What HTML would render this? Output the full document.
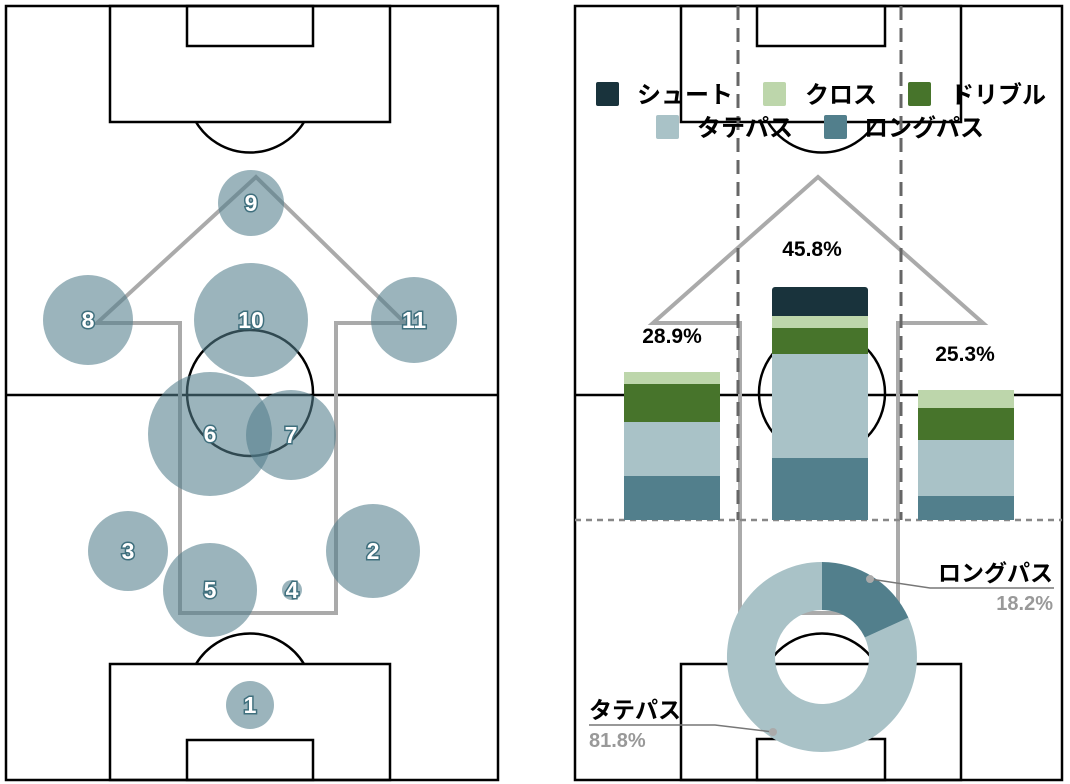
<!DOCTYPE html>
<html><head><meta charset="utf-8"><style>
html,body{margin:0;padding:0;background:#fff;}
svg{display:block;}
text{font-family:"Liberation Sans","Noto Sans CJK JP",sans-serif;font-weight:bold;}
</style></head><body>
<svg width="1070" height="784" viewBox="0 0 1070 784" xmlns="http://www.w3.org/2000/svg">
<!-- LEFT PITCH -->
<g fill="none" stroke="#000" stroke-width="2.5">
<rect x="6" y="6" width="492" height="774"/>
<line x1="6" y1="395" x2="498" y2="395"/>
<circle cx="250" cy="393" r="63"/>
<rect x="110" y="6" width="280" height="116"/>
<rect x="187" y="6" width="126" height="40"/>
<path d="M196 122 A63 63 0 0 0 304 122"/>
<rect x="110" y="664" width="280" height="116"/>
<rect x="187" y="740" width="126" height="40"/>
<path d="M196 664 A63 63 0 0 1 304 664"/>
</g>
<polygon points="256,177 405,323 336,323 336,613 180,613 180,323 97,323" fill="none" stroke="#aaa" stroke-width="4"/>
<g fill="rgb(82,126,140)" fill-opacity="0.58">
<circle cx="251" cy="203" r="33"/>
<circle cx="88" cy="320" r="45"/>
<circle cx="251" cy="320" r="57"/>
<circle cx="414" cy="320" r="43"/>
<circle cx="210" cy="434" r="62"/>
<circle cx="291" cy="435" r="45"/>
<circle cx="128" cy="551" r="40"/>
<circle cx="373" cy="551" r="47"/>
<circle cx="210" cy="590" r="47"/>
<circle cx="292" cy="590" r="10"/>
<circle cx="250" cy="705" r="24"/>
</g>
<g font-size="23" fill="#fff" stroke="#3f6f7d" stroke-width="3" paint-order="stroke" text-anchor="middle">
<text x="251" y="211">9</text>
<text x="88" y="328">8</text>
<text x="251" y="328">10</text>
<text x="414" y="328">11</text>
<text x="210" y="442">6</text>
<text x="291" y="443">7</text>
<text x="128" y="559">3</text>
<text x="373" y="559">2</text>
<text x="210" y="598">5</text>
<text x="292" y="598">4</text>
<text x="250" y="713">1</text>
</g>

<!-- RIGHT PITCH -->
<g fill="none" stroke="#000" stroke-width="2.5">
<rect x="575" y="6" width="487" height="774"/>
<line x1="575" y1="395" x2="1062" y2="395"/>
<circle cx="822" cy="393" r="63"/>
<rect x="681" y="6" width="280" height="116"/>
<rect x="757" y="6" width="128" height="40"/>
<path d="M768 122 A63 63 0 0 0 876 122"/>
<rect x="681" y="664" width="280" height="116"/>
<rect x="757" y="739" width="128" height="41"/>
<path d="M768 664 A63 63 0 0 1 876 664"/>
</g>
<polygon points="818,177 983,323 898,323 898,613 740,613 740,323 653,323" fill="none" stroke="#aaa" stroke-width="4"/>
<g stroke="#666" stroke-width="3" stroke-dasharray="14,8">
<line x1="738" y1="6" x2="738" y2="520"/>
<line x1="901" y1="6" x2="901" y2="520"/>
</g>
<line x1="575" y1="520" x2="1062" y2="520" stroke="#888" stroke-width="2.5" stroke-dasharray="6,5"/>

<!-- bars -->
<rect x="624" y="372" width="96" height="12" fill="#bdd6ab"/>
<rect x="624" y="384" width="96" height="38" fill="#47742b"/>
<rect x="624" y="422" width="96" height="54" fill="#a9c2c7"/>
<rect x="624" y="476" width="96" height="44" fill="#527f8c"/>

<path d="M772 316 V290 a3 3 0 0 1 3 -3 H865 a3 3 0 0 1 3 3 V316 Z" fill="#19333c"/>
<rect x="772" y="316" width="96" height="12" fill="#bdd6ab"/>
<rect x="772" y="328" width="96" height="26" fill="#47742b"/>
<rect x="772" y="354" width="96" height="104" fill="#a9c2c7"/>
<rect x="772" y="458" width="96" height="62" fill="#527f8c"/>

<rect x="918" y="390" width="96" height="18" fill="#bdd6ab"/>
<rect x="918" y="408" width="96" height="32" fill="#47742b"/>
<rect x="918" y="440" width="96" height="56" fill="#a9c2c7"/>
<rect x="918" y="496" width="96" height="24" fill="#527f8c"/>

<g font-size="21" fill="#000" text-anchor="middle">
<text x="672" y="343">28.9%</text>
<text x="812" y="256">45.8%</text>
<text x="965" y="361">25.3%</text>
</g>

<!-- legend -->
<rect x="596" y="82" width="23" height="24" rx="2" fill="#19333c"/>
<rect x="763" y="82" width="23" height="24" rx="2" fill="#bdd6ab"/>
<rect x="908" y="82" width="23" height="24" rx="2" fill="#47742b"/>
<rect x="656" y="115" width="23" height="24" rx="2" fill="#a9c2c7"/>
<rect x="824" y="115" width="23" height="24" rx="2" fill="#527f8c"/>
<g font-size="24" fill="#000">
<text x="637" y="103">シュート</text>
<text x="805" y="103">クロス</text>
<text x="950" y="103">ドリブル</text>
<text x="697" y="136">タテパス</text>
<text x="864" y="136">ロングパス</text>
</g>

<!-- donut -->
<path d="M908.4 617.6 A95 95 0 1 1 822 562 L822 610 A47 47 0 1 0 864.8 637.5 Z" fill="#a9c2c7"/>
<path d="M822 562 A95 95 0 0 1 908.4 617.6 L864.8 637.5 A47 47 0 0 0 822 610 Z" fill="#527f8c"/>
<g stroke="#777" stroke-width="1.5" fill="none">
<polyline points="870,579 930,588 1054,588"/>
<polyline points="773,732 715,725 589,725"/>
</g>
<circle cx="870" cy="579" r="4" fill="#aaa"/>
<circle cx="773" cy="732" r="4" fill="#aaa"/>
<g font-size="23">
<text x="1053" y="581" text-anchor="end" fill="#000">ロングパス</text>
<text x="1053" y="610" text-anchor="end" fill="#999" font-size="20">18.2%</text>
<text x="589" y="718" fill="#000">タテパス</text>
<text x="589" y="747" fill="#999" font-size="20">81.8%</text>
</g>
</svg>
</body></html>
